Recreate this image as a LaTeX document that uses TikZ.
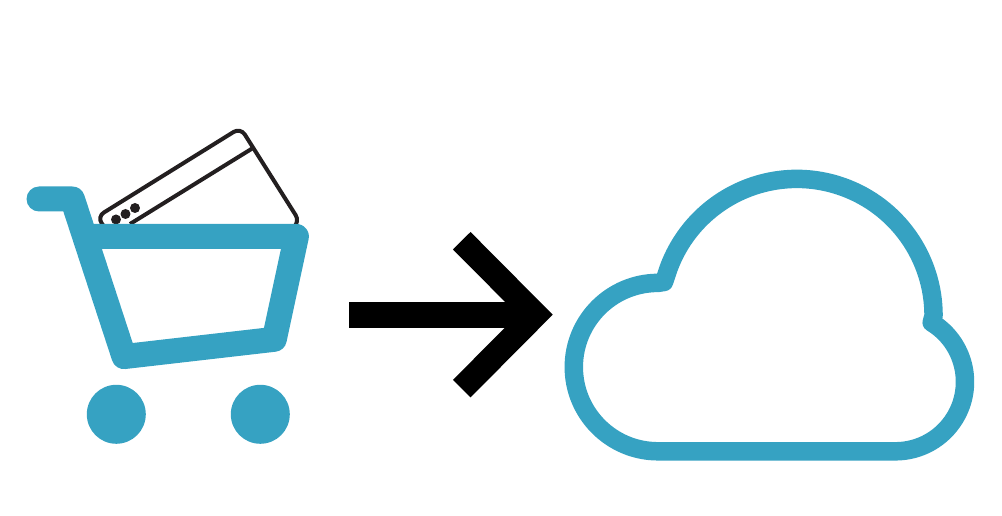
\documentclass[tikz,border=0pt]{standalone}
\usepackage{tikz}
\usetikzlibrary{arrows.meta,positioning}
\definecolor{cartblue}{RGB}{54,162,194}
\definecolor{cardblack}{RGB}{35,31,32}

\begin{document}
\begin{tikzpicture} [x=0.02cm,y=-0.02cm,{wheel/.style={circle,fill=cartblue,inner sep=0,minimum size=1.18cm}},{carddot/.style={circle,fill=cardblack,inner sep=0,minimum size=0.2cm}},{cardline/.style={color=cardblack,line width=0.08cm}},{cartline/.style={color=cartblue,line width=0.5cm,line join=round,line cap=round}},{cloudline/.style={color=cartblue,line width=0.37cm,line join=round}}]
		\useasboundingbox (0,0) rectangle (1002,516);
		%%card
		\draw [cardline,rounded corners=0.16cm] (108,232) -- (97,216.8) -- (240.5,127.7) -- (300,222) -- (290,230);
		\draw [cardline] (253,148) -- (130,224);
		\node at (116,219.5) [carddot] (dot1) {};
		\node at (125.5,214) [carddot] (dot2) {};
		\node at (135,208) [carddot] (dot3) {};

		%%cart
		\draw [cartline] (39,199) -- (72.4,199) -- (124,356.6) -- (274.3,339.3) -- (296.4,236.5) -- (84.7,236.5);
		\node at (116.3,414.3) [wheel] (wheel1) {};
		\node at (260.3,414.3) [wheel] (wheel2) {};

		%%arrow
		\coordinate (cartexit) at (349,314.7);
		\coordinate (cloudentry) at (552.7,314.7);
		\draw [-{Straight Barb[length=1.47cm,width=2.96cm,line width=0.496cm]},line width=0.52cm] (cartexit) -- (cloudentry);

		%%cloud
		\draw [cloudline] (658,451.3) arc [start angle=90,end angle=270,radius=84.2] -- (664,282) -- (668,270) arc [start angle=199.5,end angle=360,radius=136.7] -- (931.7,322.5) arc [start angle=-58.6,end angle=90,radius=69.5] -- cycle;
	\end{tikzpicture}
\end{document}
